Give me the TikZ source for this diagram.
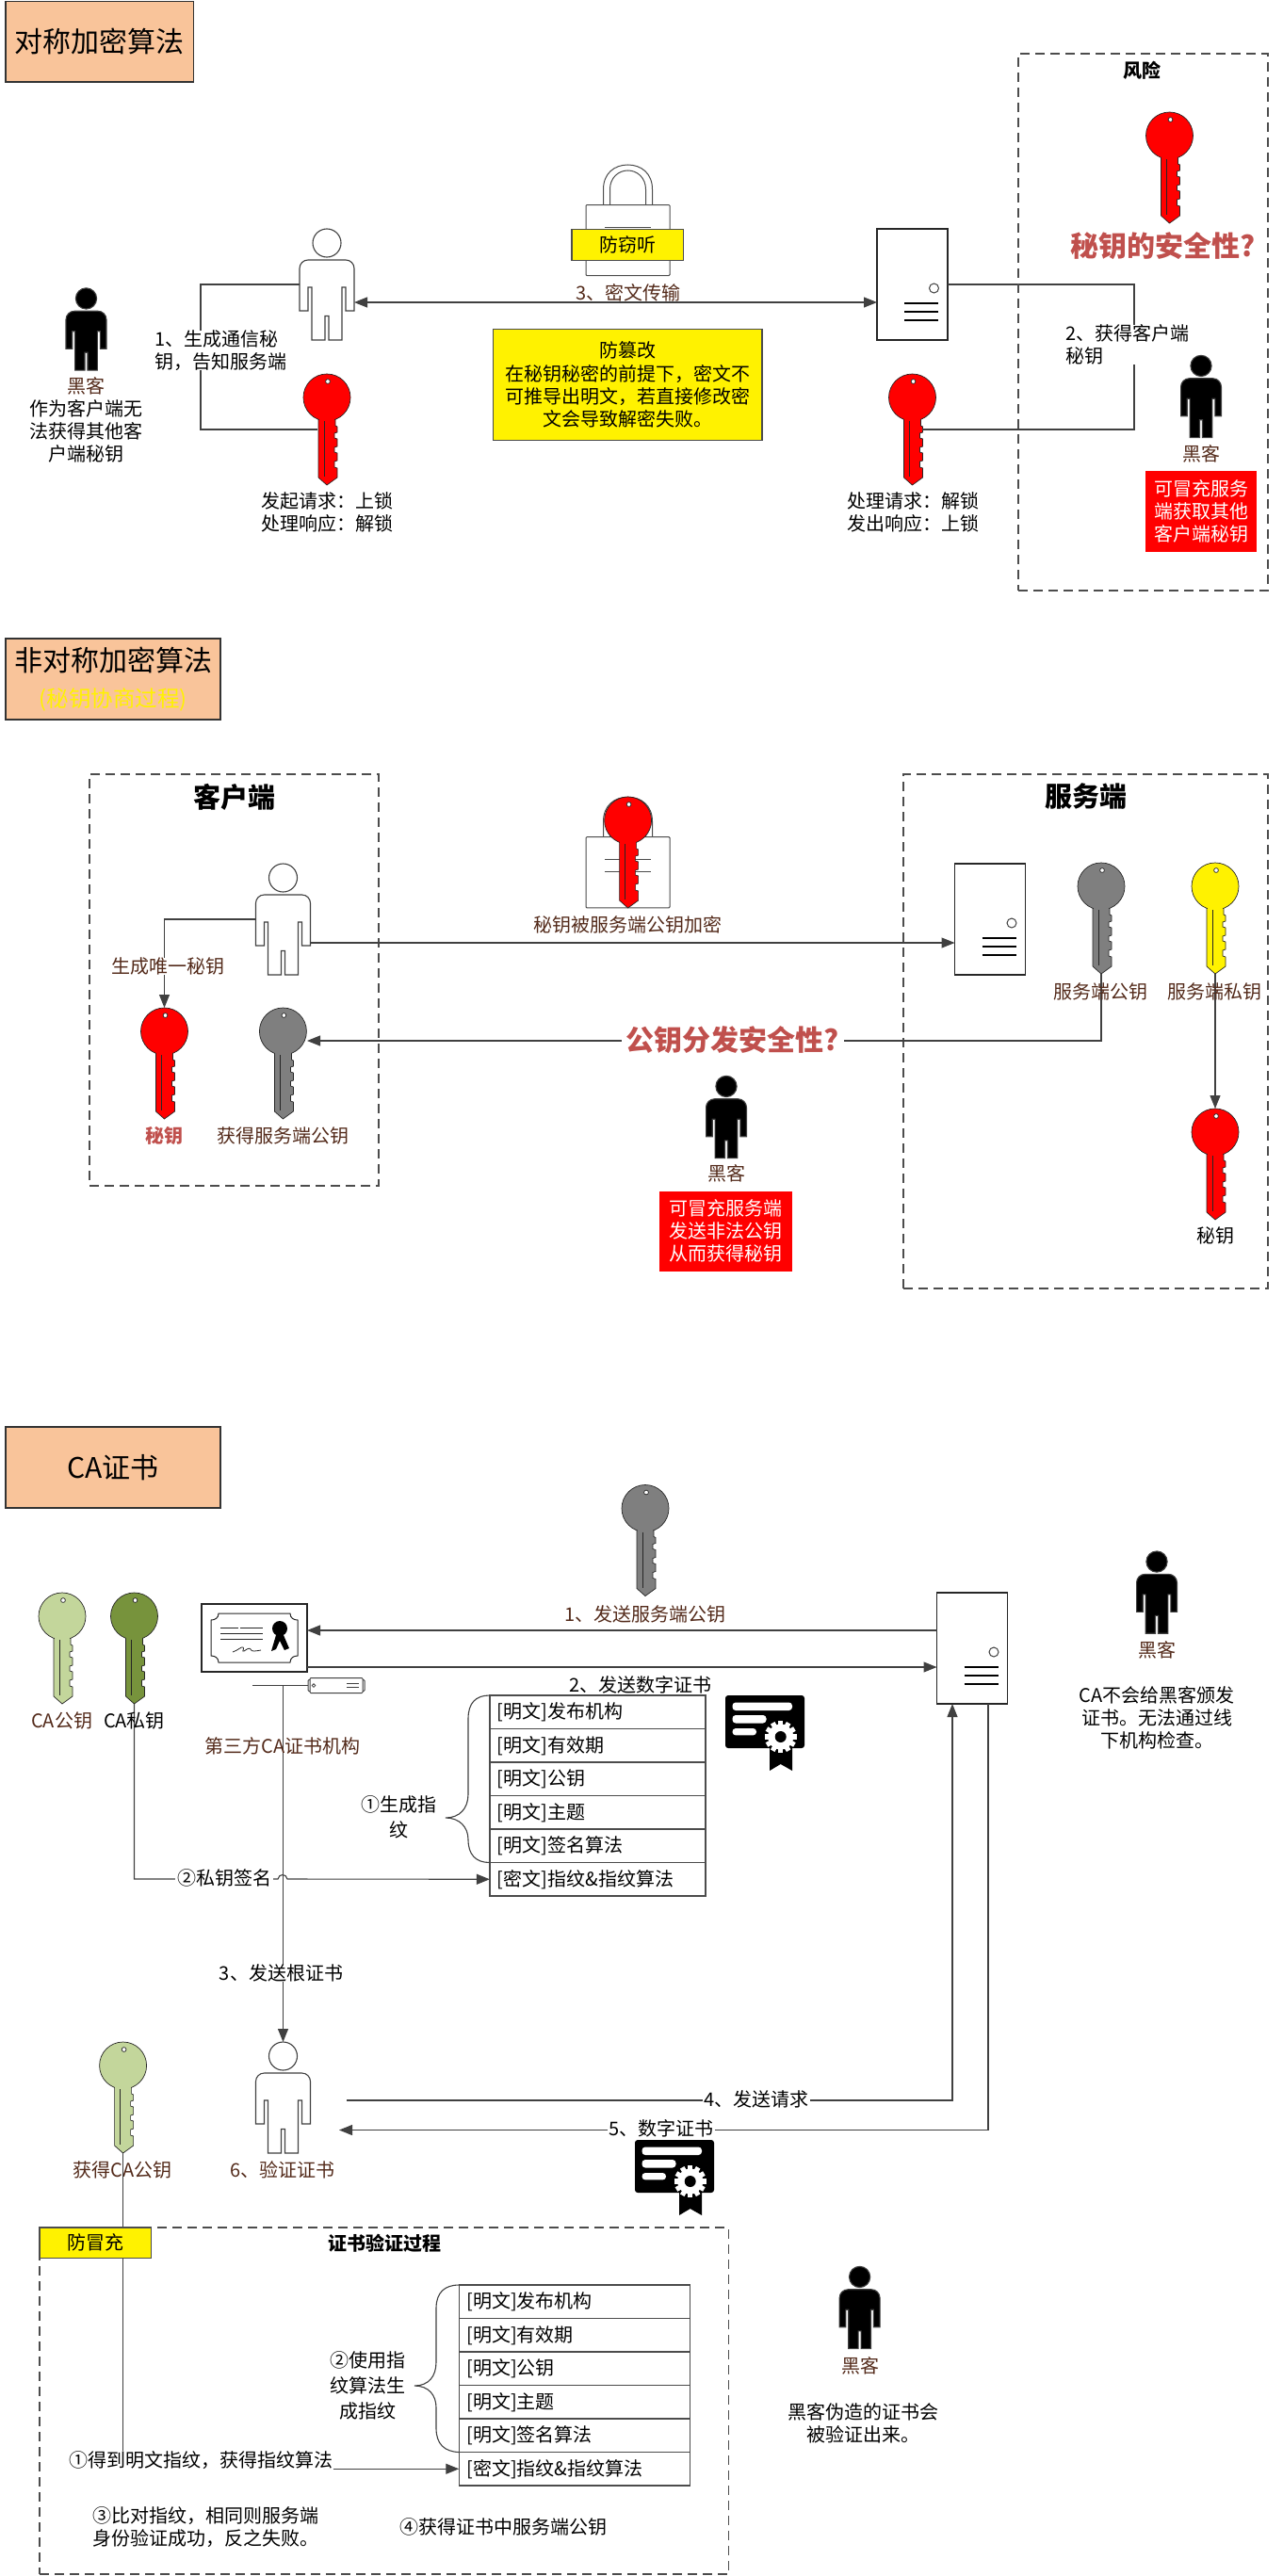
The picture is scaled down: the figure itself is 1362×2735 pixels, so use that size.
\documentclass[tikz,border=0pt]{standalone}
\usepackage{fontspec}
\usepackage{xcolor}
\setmainfont{Noto Sans CJK SC}
\usetikzlibrary{arrows.meta,positioning,calc}
\definecolor{titleorange}{HTML}{F9C49A}
\definecolor{alertred}{HTML}{C0504D}
\definecolor{textbrown}{HTML}{532A1A}
\definecolor{cagreen}{HTML}{C3D69B}
\definecolor{cadark}{HTML}{77933C}
\definecolor{pubgray}{HTML}{7F7F7F}
\tikzset{
    every node/.style={font=\fontsize{20}{24}\selectfont, inner sep=0pt, outer sep=0pt},
    linkline/.style={draw=black!75, line width=1.1pt},
    linkarrow/.style={linkline, -{Triangle[length=14pt,width=11pt]}},
    linkboth/.style={linkline, {Triangle[length=14pt,width=11pt]}-{Triangle[length=14pt,width=11pt]}},
    titlebox/.style={draw=black!80, fill=titleorange, line width=1.5pt, minimum width=228pt, minimum height=86pt, align=center},
    framebox/.style={draw=black!70, dash pattern=on 10pt off 6pt, line width=1.5pt},
    yellowbox/.style={draw=black!70, fill=yellow, line width=1.2pt, align=center},
    warnbox/.style={fill=red, text=white, align=center},
    brown/.style={text=textbrown, align=center},
    plain/.style={align=center},
    alert/.style={text=alertred, font=\bfseries\fontsize{30}{36}\selectfont},
    rowbox/.style={draw=black!70, line width=1.2pt, minimum height=35.5pt, inner xsep=8pt, align=left},
    whitelabel/.style={fill=white, align=left},
    iconbox/.style={minimum width=58pt, minimum height=118pt},
    keybox/.style={minimum width=20pt, minimum height=118pt},
    serverbox/.style={draw=black!85, fill=white, line width=1.2pt, minimum width=75pt, minimum height=118pt},
    pics/personpic/.style={code={
        \path[draw=black!75, fill=#1, line width=1.1pt] (0,-44) circle (15);
        \path[draw=black!75, fill=#1, line width=1.1pt] (-29,28) [rounded corners=9pt] -- (-29,-26) -- (29,-26) [sharp corners] -- (29,28) -- (20,28) -- (20,3) -- (16,3) -- (16,59) -- (2,59) -- (2,33.5) -- (-2,33.5) -- (-2,59) -- (-16,59) -- (-16,3) -- (-20,3) -- (-20,28) -- cycle;
    }},
    pics/keypic/.style={code={
        \path[draw=black!85, fill=#1, line width=.7pt] (-9,-14) -- (9,-14) -- (9,-4) -- (11,-3) -- (11,3) -- (8,4) -- (8,9) -- (11,10) -- (11,18) -- (8,19) -- (8,24) -- (11,25) -- (11,33) -- (8,34) -- (8,40) -- (11,41) -- (11,51) -- (0,59) -- (-9,51) -- cycle;
        \path[draw=black!85, fill=#1, line width=.7pt] (0,-34) circle (25);
        \fill[#1] (-8.4,-14) rectangle (8.4,-7);
        \draw[black!85, line width=.6pt] (-3,-9) -- (-3,50);
        \path[draw=black!85, fill=white, line width=.7pt] (1,-51) circle (2.4);
    }},
    pics/lockpic/.style={code={
        \path[draw=black!70, fill=white, line width=1pt] (-26,-16.3) -- (-26,-32.8) .. controls (-26,-50) and (-14,-58.8) .. (0,-58.8) .. controls (14,-58.8) and (26,-50) .. (26,-32.8) -- (26,-16.3) -- (19,-16.3) -- (19,-32.8) .. controls (19,-45) and (10,-52.8) .. (0,-52.8) .. controls (-10,-52.8) and (-19,-45) .. (-19,-32.8) -- (-19,-16.3) -- cycle;
        \path[draw=black!70, fill=white, line width=1pt, rounded corners=1pt] (-44.5,-16.3) rectangle (44.5,58.8);
        \draw[black!70, line width=1pt] (-24.5,7.7) -- (24.5,7.7) (-24.5,20.7) -- (24.5,20.7);
    }},
    pics/serverpic/.style={code={
        \draw[black!75, line width=1pt] (23,4) circle (5);
        \foreach \y in {20,29,38} {
            \draw[black, line width=2.6pt] (-8.5,\y) -- (27.5,\y);
        }
    }},
    pics/badgepic/.style={code={
        \fill[black] (5,10) -- (5,40) -- (16.7,33) -- (29,40) -- (29,10) -- cycle;
        \fill[black, rounded corners=3pt] (-42,-40) rectangle (42,16);
        \fill[white, rounded corners=3.5pt] (-34.5,-32.5) rectangle (29,-24);
        \fill[white, rounded corners=3.5pt] (-34.5,-19) rectangle (1.5,-10.5);
        \fill[white, rounded corners=3.5pt] (-34.5,-5) rectangle (-9,2.4);
        \fill[white] (16.7,4) circle (13.5);
        \foreach \a in {0,30,...,330} {
            \fill[white, shift={(16.7,4)}, rotate=\a] (-2.6,-17) rectangle (2.6,0);
        }
        \fill[black] (16.7,4) circle (6);
    }},
    pics/certpic/.style={code={
        \draw[black!85, line width=1pt] (-38,-26) -- (38,-26) .. controls (38,-21) and (42,-19) .. (46,-19) -- (46,19) .. controls (42,19) and (38,21) .. (38,26) -- (-38,26) .. controls (-38,21) and (-42,19) .. (-46,19) -- (-46,-19) .. controls (-42,-19) and (-38,-21) .. (-38,-26) -- cycle;
        \draw[black!85, line width=.9pt] (-36,-10.5) -- (-17,-10.5) (-15,-10.5) -- (9,-10.5) (-36,-5) -- (9,-5) (-36,1) -- (9,1);
        \draw[black!85, line width=.8pt] (-23,15) .. controls (-17,13) and (-14,9) .. (-12,10) .. controls (-10,11) and (-14,15) .. (-11,14) .. controls (-8,12) and (-5,10) .. (-4,12) .. controls (-3,15) and (1,14) .. (7,13);
        \fill[black] (27,-10) circle (8);
        \fill[black] (23,-3) -- (18,14) -- (23,12) -- (27,3) -- (32,13) -- (37,11) -- (31,-3) -- cycle;
    }},
    pics/rackpic/.style={code={
        \draw[black!75, line width=1pt, rounded corners=1pt] (-30,-6) rectangle (30,6);
        \path[draw=black!75, fill=white, line width=1pt, rounded corners=1pt] (-28,-8) rectangle (28,8);
        \draw[black!75, line width=.8pt] (-24,0) circle (1.8);
        \draw[black!75, line width=.9pt] (11,-2) -- (24,-2) (11,2) -- (24,2);
    }},
}
\begin{document}
\begin{tikzpicture}[x=1pt, y=-1pt]
    \useasboundingbox (0,0) rectangle (1362,2735);

    % Symmetric encryption
    \node[titlebox, minimum width=199.5pt, minimum height=85.5pt, font=\fontsize{30}{36}\selectfont] (titlea) at (105.75,44.25) {对称加密算法};

    \pic at (666.5,233.8) {lockpic};
    \node[yellowbox, minimum width=118.5pt, minimum height=33pt] (nolisten) at (666.3,260) {防窃听};
    \node[yellowbox, minimum width=285.5pt, minimum height=118.5pt, font=\fontsize{20}{24.3}\selectfont] (notamper) at (666.3,408.5) {防篡改\\在秘钥秘密的前提下，密文不\\可推导出明文，若直接修改密\\文会导致解密失败。};

    \node[iconbox] (clienta) at (347,302) {};
    \pic at (clienta) {personpic=white};
    \node[serverbox] (servera) at (968.5,302) {};
    \pic at (servera) {serverpic};

    \foreach \name/\x/\y/\col in {keya/347/456/red, keyb/968.5/456/red, keyrisk/1241.5/178/red} {
        \node[keybox] (\name) at (\x,\y) {};
        \pic at (\name) {keypic=\col};
    }

    \foreach \name/\x/\y in {hackera/91.5/349.5, hackerb/1275/421} {
        \node[iconbox, minimum width=43pt, minimum height=87pt] (\name) at (\x,\y) {};
        \pic[scale=.74] at (\name) {personpic=black};
    }

    \coordinate (bendl) at (213,456);
    \coordinate (bendr) at (1204,456);
    \draw[linkline] (clienta.west) -| (bendl) -- (keya.west);
    \draw[linkline] (servera.east) -| (bendr) -- (keyb.east);
    \draw[linkboth] ([yshift=-19pt]clienta.east) -- ([yshift=-19pt]servera.west) node[midway, above=0.5pt, brown, xshift=13.5pt] (cipher) {3、密文传输};

    \node[whitelabel, anchor=west] (stepone) at (164,372) {1、生成通信秘\\钥，告知服务端};
    \node[whitelabel, anchor=west] (steptwo) at (1131,366) {2、获得客户端\\秘钥};
    \node[brown] (hackertexta) at (91.5,410) {黑客};
    \node[plain] (hackernotea) at (91.5,457.5) {作为客户端无\\法获得其他客\\户端秘钥};
    \node[plain] (keyuse) at (347,544) {发起请求：上锁\\处理响应：解锁};
    \node[plain] (serveruse) at (969,544) {处理请求：解锁\\发出响应：上锁};

    \node[framebox, minimum width=265pt, minimum height=570pt] (riskframe) at (1213.5,342) {};
    \node[font=\bfseries\fontsize{20}{24}\selectfont] (risktitle) at (1212.6,75) {风险};
    \node[alert] (keysafe) at (1235,261) {秘钥的安全性?};
    \node[brown] (hackertextb) at (1275,481.6) {黑客};
    \node[warnbox, minimum width=118pt, minimum height=85.7pt] (warna) at (1275,543) {可冒充服务\\端获取其他\\客户端秘钥};

    % Asymmetric encryption
    \node[titlebox, font=\fontsize{30}{38}\selectfont] (titleb) at (120,721) {非对称加密算法\\{\fontsize{23.5}{38}\selectfont\color{yellow}(秘钥协商过程)}};

    \node[framebox, minimum width=307pt, minimum height=437pt] (clientframe) at (248.5,1040.5) {};
    \node[framebox, minimum width=387pt, minimum height=546pt] (serverframe) at (1152.5,1095) {};
    \node[font=\bfseries\fontsize{29}{34}\selectfont] (clienttitle) at (248.7,846) {客户端};
    \node[font=\bfseries\fontsize{29}{34}\selectfont] (servertitle) at (1152.6,845) {服务端};

    \pic at (666.5,905) {lockpic};
    \node[iconbox] (clientb) at (300.5,976) {};
    \pic at (clientb) {personpic=white};
    \node[serverbox] (serverb) at (1051,976) {};
    \pic at (serverb) {serverpic};

    \foreach \name/\x/\y/\col in {keyc/174.5/1129/red, keyd/300.4/1129/pubgray, keylock/666.6/905/red, keypub/1169/975/pubgray, keypriv/1290/975/yellow, keye/1290/1236/red} {
        \node[keybox] (\name) at (\x,\y) {};
        \pic at (\name) {keypic=\col};
    }

    \node[iconbox, minimum width=43pt, minimum height=87pt] (hackerc) at (771,1186) {};
    \pic[scale=.74] at (hackerc) {personpic=black};

    \coordinate (pubtip) at (326,1105);
    \draw[linkarrow] (clientb.west) -| (keyc.north);
    \draw[linkarrow] ([yshift=-25pt]clientb.east) -- ([yshift=-25pt]serverb.west);
    \draw[linkarrow] (keypub.south) |- (pubtip);
    \draw[linkarrow] (keypriv.south) -- (keye.north);

    \node[fill=white, brown] (genkey) at (178.5,1026) {生成唯一秘钥};
    \node[text=alertred, font=\bfseries\fontsize{20}{24}\selectfont] (keylabel) at (174.5,1206.4) {秘钥};
    \node[brown] (getpub) at (300.5,1206.4) {获得服务端公钥};
    \node[brown] (lockedkey) at (666,982) {秘钥被服务端公钥加密};
    \node[brown] (publabel) at (1168.6,1053) {服务端公钥};
    \node[brown] (privlabel) at (1289.6,1053) {服务端私钥};
    \node[plain] (keylabeltwo) at (1290,1312) {秘钥};
    \node[alert, fill=white, inner xsep=5pt] (pubsafe) at (778,1104) {公钥分发安全性?};
    \node[brown] (hackertextc) at (771,1246) {黑客};
    \node[warnbox, minimum width=141.3pt, minimum height=85pt] (warnb) at (770.6,1307) {可冒充服务端\\发送非法公钥\\从而获得秘钥};

    % CA certificate
    \node[titlebox, font=\fontsize{30}{36}\selectfont] (titlec) at (120,1558) {CA证书};

    \foreach \name/\x/\y/\col in {keytop/685/1635.5/pubgray, keyca/66/1750/cagreen, keycb/142.5/1750/cadark, keycc/130.6/2227/cagreen} {
        \node[keybox] (\name) at (\x,\y) {};
        \pic at (\name) {keypic=\col};
    }

    \node[draw=black!85, fill=white, line width=1.2pt, minimum width=112pt, minimum height=72pt] (cert) at (270,1739) {};
    \pic at (cert) {certpic};
    \node[minimum width=60pt, minimum height=16pt] (rack) at (357,1789.5) {};
    \pic at (rack) {rackpic};
    \node[serverbox] (serverc) at (1032,1750) {};
    \pic at (serverc) {serverpic};
    \node[iconbox] (clientc) at (300.5,2227) {};
    \pic at (clientc) {personpic=white};

    \foreach \name/\x/\y in {hackerd/1228/1690.6, hackere/912.6/2450} {
        \node[iconbox, minimum width=43pt, minimum height=87pt] (\name) at (\x,\y) {};
        \pic[scale=.74] at (\name) {personpic=black};
    }

    \pic at (812,1840) {badgepic};
    \pic at (716,2312) {badgepic};

    \foreach \i/\t in {1/{[明文]发布机构}, 2/{[明文]有效期}, 3/{[明文]公钥}, 4/{[明文]主题}, 5/{[明文]签名算法}, 6/{[密文]指纹\&指纹算法}} {
        \node[rowbox, text width=213pt] (rowa\i) at (634.4,1782.25+\i*35.5) {\t};
    }
    \foreach \i/\t in {1/{[明文]发布机构}, 2/{[明文]有效期}, 3/{[明文]公钥}, 4/{[明文]主题}, 5/{[明文]签名算法}, 6/{[密文]指纹\&指纹算法}} {
        \node[rowbox, text width=229.5pt] (rowb\i) at (610,2408.25+\i*35.5) {\t};
    }

    \draw[linkline] (rowa1.north west) .. controls (505,1800) and (497,1808) .. (497,1825) -- (497,1905) .. controls (497,1920) and (488,1930) .. (473,1930) .. controls (488,1930) and (497,1940) .. (497,1953) .. controls (497,1969) and (505,1977.5) .. (rowa5.south west);
    \draw[linkline] (rowb1.north west) .. controls (472,2426) and (463,2434) .. (463,2451) -- (463,2508) .. controls (463,2523) and (455,2533) .. (440,2533) .. controls (455,2533) and (463,2543) .. (463,2556) -- (463,2578) .. controls (463,2595) and (472,2603) .. (rowb5.south west);

    \coordinate (busstart) at (268,1789.5);
    \coordinate (jumpl) at (295,1995);
    \coordinate (jumpr) at (305,1995);
    \coordinate (reqstart) at (368,2230);
    \coordinate (resptip) at (360,2261.5);
    \draw[linkarrow] ([yshift=19pt]serverc.west) -- ([yshift=8pt]cert.east);
    \draw[linkarrow] ([yshift=-31pt]cert.east) -- ([yshift=-20pt]serverc.west);
    \draw[linkline] (busstart) -- (rack.west);
    \draw[linkarrow] (rack.west -| clientc.north) -- (clientc.north);
    \draw[linkarrow] (keycb.south) |- (jumpl) .. controls (296,1989) and (304,1989) .. (jumpr) -- (rowa6.west);
    \draw[linkarrow] (reqstart) -| ([xshift=-21pt]serverc.south);
    \draw[linkarrow] ([xshift=17pt]serverc.south) |- (resptip);

    \node[brown] (sendpub) at (685,1713.4) {1、发送服务端公钥};
    \node[plain] (sendcert) at (680,1788.5) {2、发送数字证书};
    \node[brown] (calabela) at (65.6,1827) {CA公钥};
    \node[plain] (calabelb) at (142.5,1827) {CA私钥};
    \node[brown] (thirdca) at (300,1854) {第三方CA证书机构};
    \node[plain] (genfinger) at (423,1929.5) {①生成指\\[3pt]纹};
    \node[fill=white, inner xsep=2pt] (signkey) at (238,1994) {②私钥签名};
    \node[fill=white] (sendroot) at (298.5,2095) {3、发送根证书};
    \node[fill=white, inner xsep=1pt] (sendreq) at (803,2229) {4、发送请求};
    \node[fill=white, inner xsep=1pt] (sendback) at (702,2260) {5、数字证书};
    \node[brown] (getca) at (130,2304) {获得CA公钥};
    \node[brown] (verify) at (300,2304) {6、验证证书};
    \node[brown] (hackertextd) at (1228,1751.5) {黑客};
    \node[plain] (hackernoted) at (1228,1824) {CA不会给黑客颁发\\证书。无法通过线\\下机构检查。};
    \node[brown] (hackertexte) at (913,2512) {黑客};
    \node[plain] (hackernotee) at (916.7,2573) {黑客伪造的证书会\\被验证出来。};

    % Verification frame
    \node[plain] (plainfinger) at (213.5,2612) {①得到明文指纹，获得指纹算法};
    \draw[linkline] (keycc.south) -- (keycc.south |- plainfinger.north);
    \draw[linkarrow] (plainfinger.east |- rowb6.west) -- (rowb6.west);
    \node[framebox, minimum width=731.5pt, minimum height=368pt] (verifyframe) at (407.75,2549) {};
    \node[yellowbox, minimum width=118.7pt, minimum height=32.6pt] (noforge) at (101.3,2381.3) {防冒充};
    \node[font=\bfseries\fontsize{20}{24}\selectfont] (verifytitle) at (408,2382) {证书验证过程};
    \node[plain] (usealgo) at (390,2533) {②使用指\\[3pt]纹算法生\\[3pt]成指纹};
    \node[align=left, anchor=west] (compare) at (98.5,2683) {③比对指纹，相同则服务端\\身份验证成功，反之失败。};
    \node[plain] (getpubkey) at (534,2683) {④获得证书中服务端公钥};
\end{tikzpicture}
\end{document}
